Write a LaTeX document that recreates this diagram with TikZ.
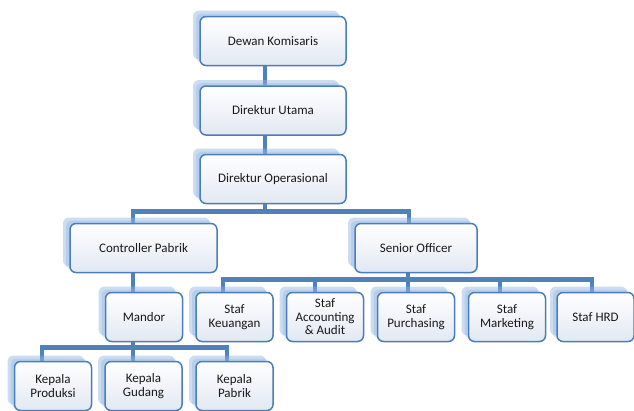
\documentclass[tikz,border=0pt]{standalone}
\usepackage{fontspec}
\setmainfont{Carlito}
\usetikzlibrary{shadows,backgrounds}

\definecolor{lineblue}{HTML}{4F81BD}
\definecolor{boxblue}{HTML}{4A7EBB}
\definecolor{boxfill}{HTML}{E2E8F2}
\definecolor{shadowblue}{HTML}{8DB3E2}

\tikzset{
	orgbox/.style={draw=boxblue, line width=1.5pt, rounded corners=6pt,
		top color=white, bottom color=boxfill, align=center, text=black!90,
		font=\fontsize{13}{13.5}\selectfont, inner sep=2pt,
		minimum height=49pt,
		drop shadow={shadow xshift=-4pt, shadow yshift=3pt, fill=shadowblue, opacity=0.35},
		drop shadow={shadow xshift=-7pt, shadow yshift=6pt, fill=shadowblue, opacity=0.45}},
	wide/.style={orgbox, minimum width=146pt},
	small/.style={orgbox, minimum width=77pt},
	conn/.style={draw=lineblue, line width=4.5pt}
}

\begin{document}
\begin{tikzpicture}[x=1pt,y=-1pt]
	
	\useasboundingbox (0,0) rectangle (634,410);
	
	% top chain
	\node[wide] (dk) at (273,41) {Dewan Komisaris};
	\node[wide] (du) at (273,110.5) {Direktur Utama};
	\node[wide] (do) at (273,179) {Direktur Operasional};
	
	% second level
	\node[orgbox, minimum width=147pt] (cp) at (143.5,248) {Controller Pabrik};
	\node[orgbox, minimum width=122pt] (so) at (416,248) {Senior Officer};
	
	% third level
	\node[small] (mandor) at (144,317) {Mandor};
	\node[small] (keu) at (234.5,317) {Staf\\Keuangan};
	\node[small] (acc) at (325,317) {Staf\\Accounting\\\& Audit};
	\node[small] (pur) at (416,317) {Staf\\Purchasing};
	\node[small] (mar) at (507,317) {Staf\\Marketing};
	\node[small] (hrd) at (595.5,317) {Staf HRD};
	
	% bottom level
	\node[small] (prod) at (53,386) {Kepala\\Produksi};
	\node[small] (gud) at (143.5,386) {Kepala\\Gudang};
	\node[small] (pab) at (234.5,386) {Kepala\\Pabrik};
	
	\begin{scope}[on background layer]
		\draw[conn] ([xshift=-8pt]dk.south) -- ([xshift=-8pt]du.north);
		\draw[conn] ([xshift=-8pt]du.south) -- ([xshift=-8pt]do.north);
		
		\draw[conn] ([xshift=-8pt]do.south) -- ++(0,7) -| ([xshift=-10.5pt]cp.north);
		\draw[conn] ([xshift=-8pt]do.south) -- ++(0,7) -| ([xshift=-7pt]so.north);
		
		\draw[conn] ([xshift=-10.5pt]cp.south) -- ([xshift=-11pt]mandor.north);
		
		\draw[conn] ([xshift=-8pt]so.south) -- ++(0,6) -| ([xshift=-11.5pt]keu.north);
		\draw[conn] ([xshift=-8pt]so.south) -- ++(0,6) -| ([xshift=-10pt]acc.north);
		\draw[conn] ([xshift=-8pt]so.south) -- ++(0,6) -| ([xshift=-8pt]pur.north);
		\draw[conn] ([xshift=-8pt]so.south) -- ++(0,6) -| ([xshift=-7pt]mar.north);
		\draw[conn] ([xshift=-8pt]so.south) -- ++(0,6) -| ([xshift=-3.5pt]hrd.north);
		
		\draw[conn] ([xshift=-11pt]mandor.south) -- ++(0,5) -| ([xshift=-11pt]prod.north);
		\draw[conn] ([xshift=-11pt]mandor.south) -- ++(0,5) -| ([xshift=-10.5pt]gud.north);
		\draw[conn] ([xshift=-11pt]mandor.south) -- ++(0,5) -| ([xshift=-7.5pt]pab.north);
	\end{scope}
	
\end{tikzpicture}
\end{document}
